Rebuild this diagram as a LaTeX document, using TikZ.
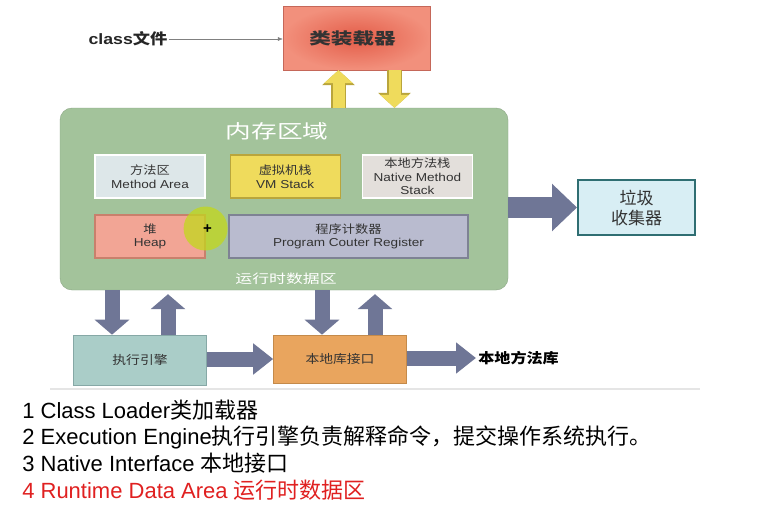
\documentclass[tikz,border=0pt]{standalone}
\usepackage{fontspec}
\setmainfont{Liberation Sans}
\newfontfamily\cjk{Noto Sans CJK SC}
\newfontfamily\diagfont[FakeStretch=1.18]{Liberation Sans}
\newfontfamily\diagcjk[FakeStretch=1.15]{Noto Sans CJK SC}
\newfontfamily\widecjk[FakeStretch=1.35]{Noto Sans CJK SC}
\usepackage{tikz}
\usetikzlibrary{arrows.meta,positioning}

\definecolor{memgreen}{HTML}{A3C39B}
\definecolor{areablue}{HTML}{DDE7E9}
\definecolor{vmyellow}{HTML}{EFDB5C}
\definecolor{vmborder}{HTML}{B9A53C}
\definecolor{stackgray}{HTML}{E3DFDB}
\definecolor{heapred}{HTML}{F2A595}
\definecolor{heapborder}{HTML}{C9806C}
\definecolor{pcblue}{HTML}{B9BBCF}
\definecolor{pcborder}{HTML}{7E8294}
\definecolor{gcblue}{HTML}{D8EEF4}
\definecolor{gcborder}{HTML}{2F6E72}
\definecolor{enginegreen}{HTML}{AACDC8}
\definecolor{engineborder}{HTML}{86A8A6}
\definecolor{ifaceorange}{HTML}{E9A55E}
\definecolor{ifaceborder}{HTML}{C48A4A}
\definecolor{arrowgray}{HTML}{6F7696}
\definecolor{loaderred}{HTML}{E35C48}
\definecolor{loaderrim}{HTML}{F2907C}
\definecolor{cursorgreen}{HTML}{C3D81C}
\definecolor{notered}{HTML}{E02020}

\tikzset{
  box/.style={draw, rectangle, line width=1.2pt, minimum width=110pt, minimum height=43pt,
    align=center, inner sep=1pt, font=\fontsize{11.5}{13.5}\selectfont\diagfont, text=black!80},
  yarrow/.style={line width=12pt, draw=vmyellow, -{Triangle[width=28pt,length=13pt]},
    preaction={draw=vmborder, line width=15pt, -{Triangle[width=32pt,length=15pt]}}},
  garrow/.style={line width=15pt, draw=arrowgray, -{Triangle[width=34pt,length=15pt]}},
  harrow/.style={line width=15pt, draw=arrowgray, -{Triangle[width=30pt,length=20pt]}},
  wide arrow/.style={line width=21pt, draw=arrowgray, -{Triangle[width=46pt,length=25pt]}},
  listline/.style={anchor=west, inner sep=0pt, font=\fontsize{22}{26}\selectfont}
}

\begin{document}
\begin{tikzpicture}[x=1pt, y=-1pt, semithick]
  \useasboundingbox (0,0) rectangle (764,506);
  \fill[white] (0,0) rectangle (764,506);

  % class loader
  \node [draw=loaderred!70!gray, thin, inner color=loaderred, outer color=loaderrim,
    minimum width=147pt, minimum height=64pt, font=\fontsize{16}{18}\selectfont\widecjk\bfseries, text=black!80]
    (loader) at (356.5,38) {\hspace*{-8pt}类装载器};
  \node [font=\fontsize{15}{17}\selectfont\diagfont\bfseries, inner sep=1pt, text=black!85] (file) at (128,39) {class{\diagcjk 文件}};
  \draw [-{Latex[length=5pt,width=4pt]}, thin, gray] (file.east) -- (file.east -| loader.west);

  % runtime data area
  \node [draw=memgreen!85!black, fill=memgreen, rounded corners=12pt, thin,
    minimum width=448pt, minimum height=182pt] (mem) at (284,199) {};
  \node [text=white, font=\fontsize{19}{21}\selectfont\widecjk] (heading) at (277,131) {内存区域};
  \node [box, fill=areablue, draw=white] (method) at (150,176.5) {{\diagcjk 方法区}\\Method Area};
  \node [box, fill=vmyellow, draw=vmborder] (vm) [right=24pt of method] {{\diagcjk 虚拟机栈}\\VM Stack};
  \node [box, fill=stackgray, draw=white] (native) [right=21pt of vm] {{\diagcjk 本地方法栈}\\Native Method\\Stack};
  \node [box, fill=heapred, draw=heapborder] (heap) at (150,236.5) {{\diagcjk 堆}\\Heap};
  \node [box, fill=pcblue, draw=pcborder, minimum width=239pt] (pc) at (348.5,236.5)
    {{\diagcjk 程序计数器}\\Program Couter Register};
  \node [text=white, font=\fontsize{12.5}{14}\selectfont\widecjk] (footer) at (286,279) {运行时数据区};

  % cursor highlight
  \fill [cursorgreen, opacity=0.75] ([yshift=8pt]heap.east) circle (22pt);
  \node [inner sep=0pt, font=\fontsize{15}{15}\selectfont\bfseries] (cursor) at ([xshift=2pt,yshift=7pt]heap.east) {+};

  % class loader <-> memory
  \coordinate (lup) at ([xshift=-18pt]loader.south);
  \coordinate (ldown) at ([xshift=38pt]loader.south);
  \draw [yarrow] (lup |- mem.north) -- (lup);
  \draw [yarrow] (ldown) -- (ldown |- mem.north);

  % garbage collector
  \node [draw=gcborder, line width=2pt, fill=gcblue, minimum width=117pt, minimum height=55pt,
    align=center, font=\fontsize{17}{20}\selectfont\cjk, text=black!80] (gc) at (636.5,207.5) {垃圾\\收集器};
  \draw [wide arrow] (mem.east |- gc.west) -- (gc.west);

  % engine and native interface
  \node [draw=engineborder, fill=enginegreen, minimum width=133pt, minimum height=50pt,
    font=\fontsize{12}{14}\selectfont\diagcjk, text=black!80] (engine) at (140,360) {执行引擎};
  \node [draw=ifaceborder, fill=ifaceorange, minimum width=133pt, minimum height=48pt,
    font=\fontsize{12}{14}\selectfont\diagcjk, text=black!80] (iface) at (340,359) {本地库接口};
  \node [anchor=west, inner sep=2pt, font=\fontsize{14}{16}\selectfont\diagcjk\bfseries] (lib) at (476,358) {本地方法库};

  \coordinate (edown) at ([xshift=-28pt]engine.north);
  \coordinate (eup) at ([xshift=28pt]engine.north);
  \coordinate (idown) at ([xshift=-18pt]iface.north);
  \coordinate (iup) at ([xshift=35pt]iface.north);
  \draw [garrow] (edown |- mem.south) -- (edown);
  \draw [garrow] (eup) -- ([yshift=-4pt]eup |- mem.south);
  \draw [garrow] (idown |- mem.south) -- (idown);
  \draw [garrow] (iup) -- ([yshift=-4pt]iup |- mem.south);
  \draw [harrow] (engine.east |- iface.west) -- (iface.west);
  \draw [harrow] (iface.east |- lib.west) -- (lib.west);

  \draw [black!10, line width=1.5pt] (50,389) -- (700,389);

  % notes
  \node [listline] (note1) at (22,410) {1 Class Loader{\cjk 类加载器}};
  \node [listline] (note2) at (22,437) {2 Execution Engine{\cjk 执行引擎负责解释命令，提交操作系统执行。}};
  \node [listline] (note3) at (22,463.5) {3 Native Interface {\cjk 本地接口}};
  \node [listline, text=notered] (note4) at (22,490) {4 Runtime Data Area {\cjk 运行时数据区}};
\end{tikzpicture}
\end{document}
